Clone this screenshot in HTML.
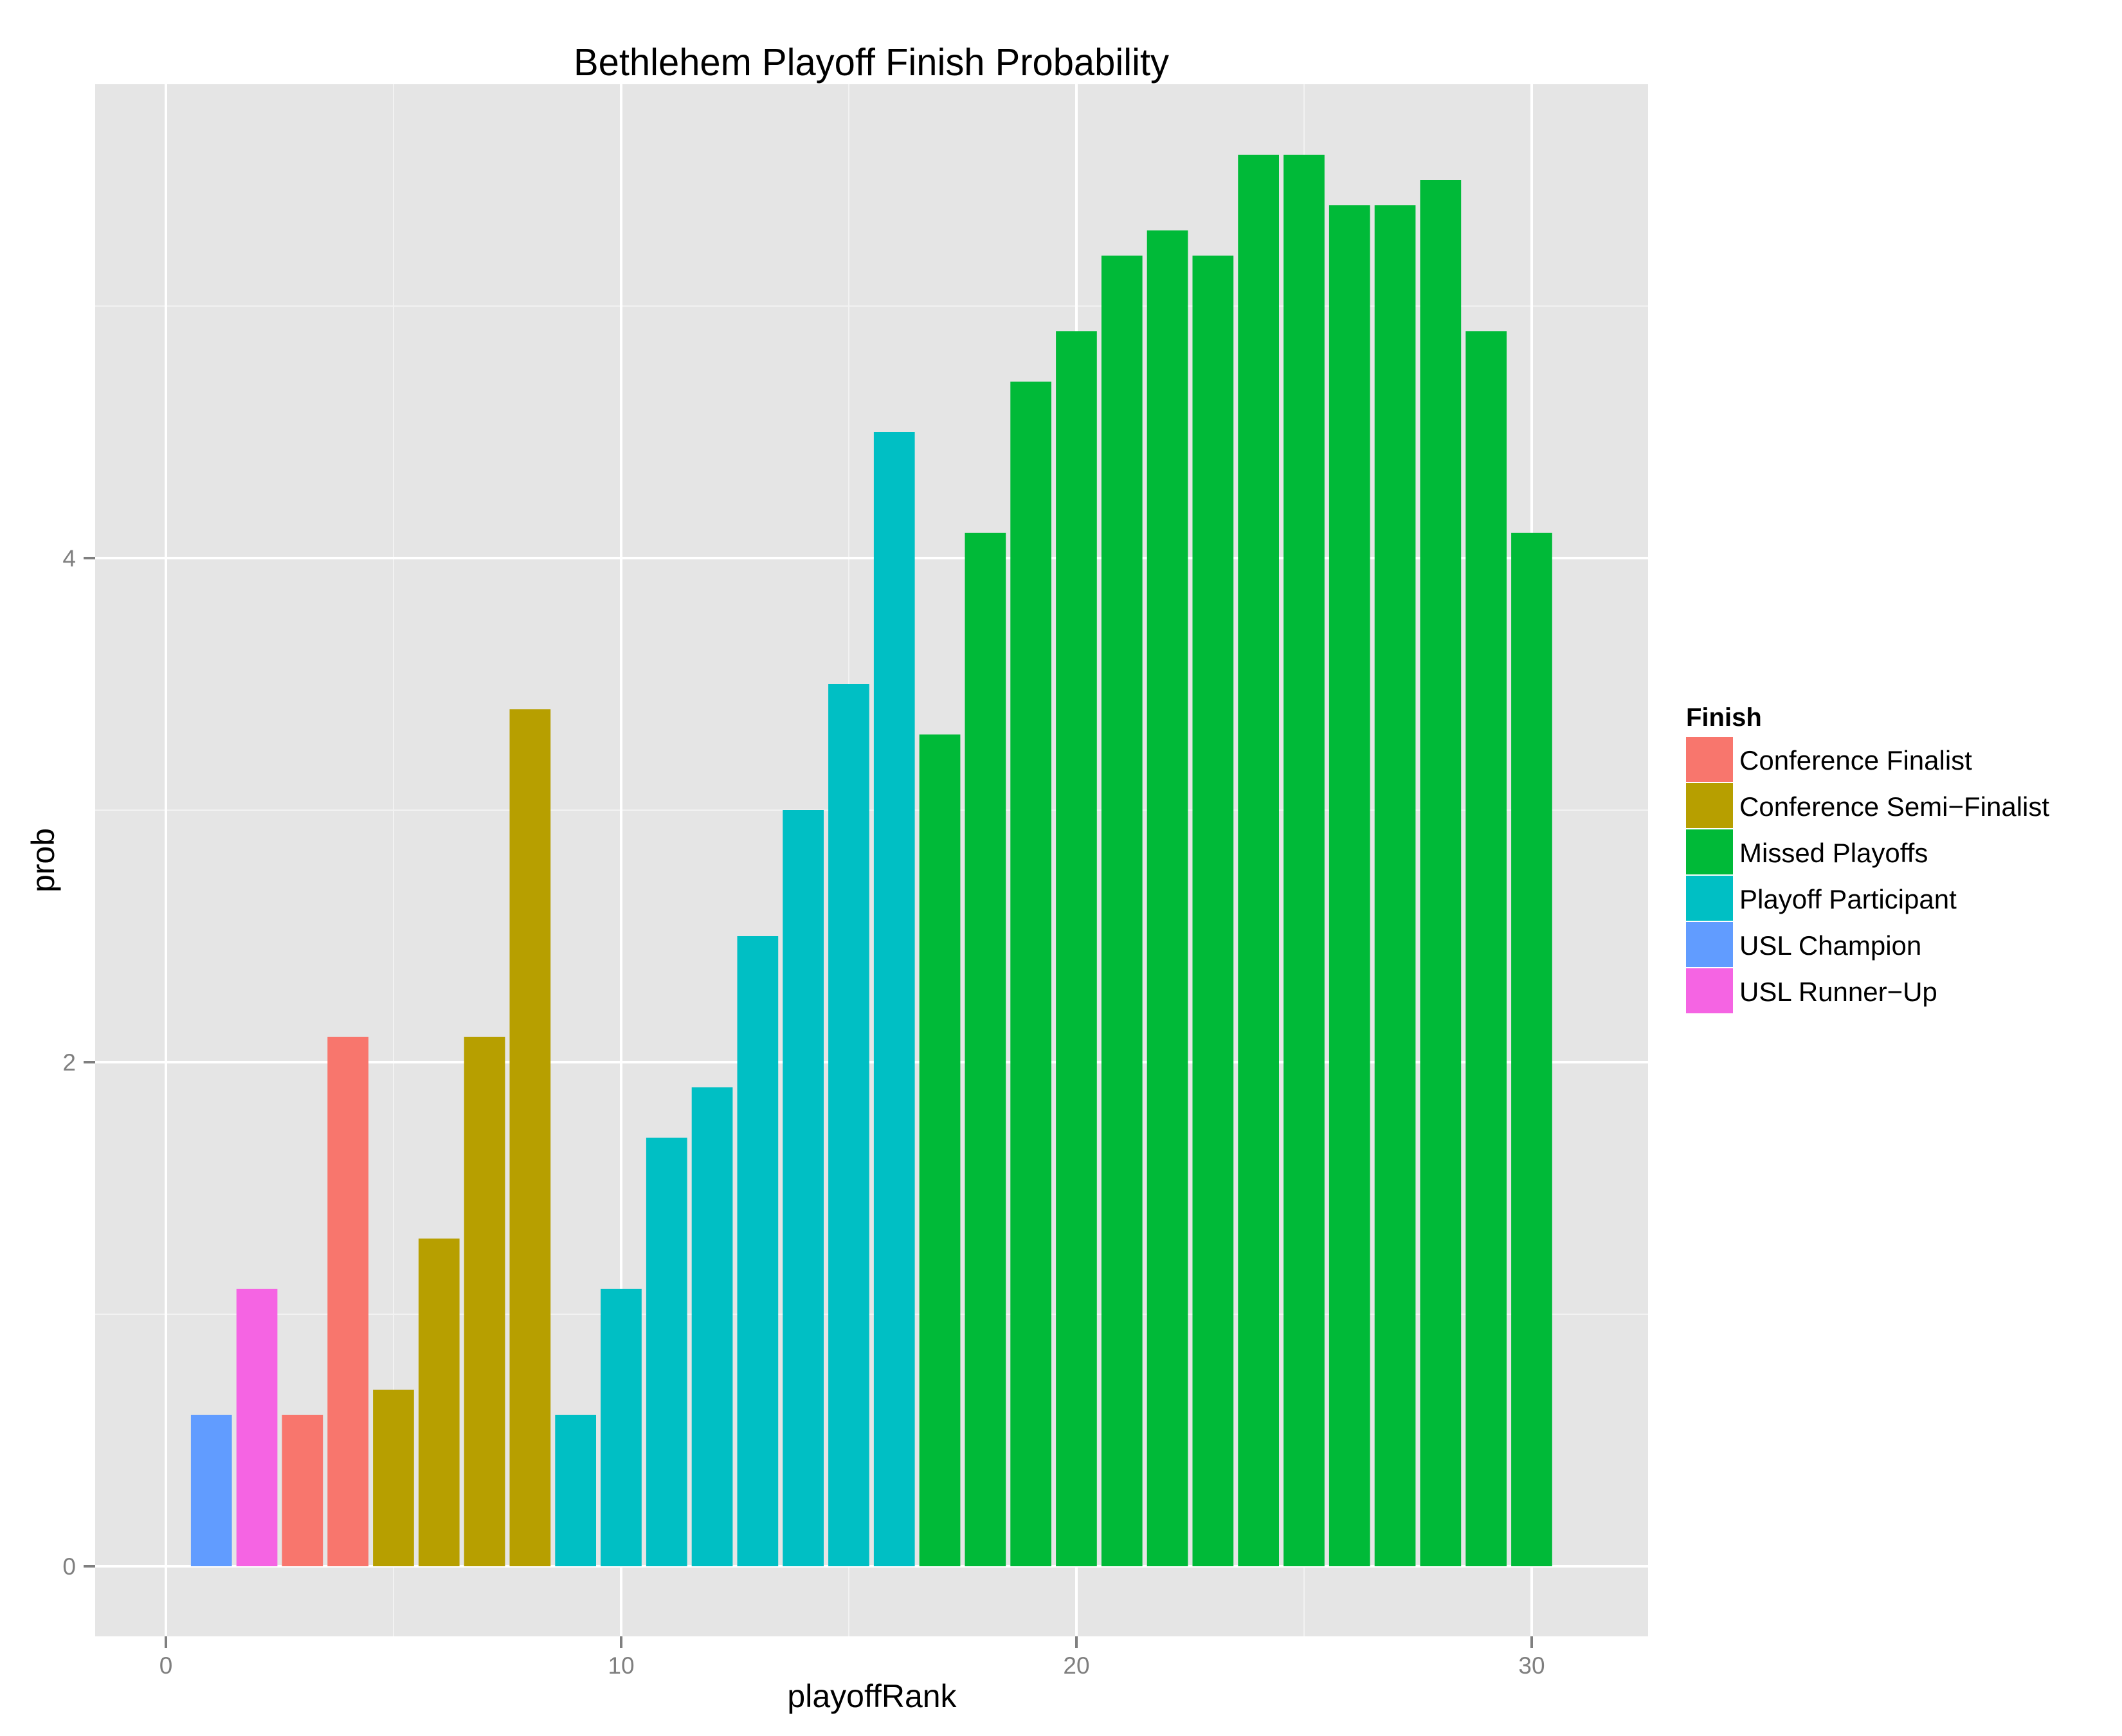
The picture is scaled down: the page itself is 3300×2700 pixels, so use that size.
<!DOCTYPE html>
<html><head><meta charset="utf-8"><style>html,body{margin:0;padding:0;background:#fff}svg{display:block}</style></head>
<body>
<svg xmlns="http://www.w3.org/2000/svg" width="3300" height="2700" viewBox="0 0 3300 2700" font-family="Liberation Sans, sans-serif">
<rect width="3300" height="2700" fill="#fff"/>
<rect x="148" y="131" width="2415" height="2414" fill="#E5E5E5"/>
<g stroke="#F2F2F2" stroke-width="2">
<line x1="612" y1="131" x2="612" y2="2545"/><line x1="1320" y1="131" x2="1320" y2="2545"/><line x1="2028" y1="131" x2="2028" y2="2545"/>
<line x1="148" y1="2044" x2="2563" y2="2044"/><line x1="148" y1="1260" x2="2563" y2="1260"/><line x1="148" y1="476" x2="2563" y2="476"/>
</g>
<g stroke="#fff" stroke-width="4">
<line x1="258" y1="131" x2="258" y2="2545"/><line x1="966" y1="131" x2="966" y2="2545"/><line x1="1674" y1="131" x2="1674" y2="2545"/><line x1="2382" y1="131" x2="2382" y2="2545"/>
<line x1="148" y1="2436" x2="2563" y2="2436"/><line x1="148" y1="1652" x2="2563" y2="1652"/><line x1="148" y1="868" x2="2563" y2="868"/>
</g>
<g id="bars"></g>
<g stroke="#7F7F7F" stroke-width="4">
<line x1="130" y1="2436" x2="148" y2="2436"/><line x1="130" y1="1652" x2="148" y2="1652"/><line x1="130" y1="868" x2="148" y2="868"/>
<line x1="258" y1="2545" x2="258" y2="2563"/><line x1="966" y1="2545" x2="966" y2="2563"/><line x1="1674" y1="2545" x2="1674" y2="2563"/><line x1="2382" y1="2545" x2="2382" y2="2563"/>
</g>
<g fill="#7F7F7F" font-size="37">
<text x="118" y="2449" text-anchor="end">0</text><text x="118" y="1665" text-anchor="end">2</text><text x="118" y="881" text-anchor="end">4</text>
<text x="258" y="2603" text-anchor="middle">0</text><text x="966" y="2603" text-anchor="middle">10</text><text x="1674" y="2603" text-anchor="middle">20</text><text x="2382" y="2603" text-anchor="middle">30</text>
</g>
<text x="1356" y="2655" font-size="50" text-anchor="middle">playoffRank</text>
<text transform="translate(84,1338) rotate(-90)" font-size="50" text-anchor="middle">prob</text>
<text x="1355" y="117" font-size="59" text-anchor="middle" textLength="926" lengthAdjust="spacingAndGlyphs">Bethlehem Playoff Finish Probability</text>
<text x="2622" y="1129" font-size="40" font-weight="bold">Finish</text>
<g font-size="42">
<rect x="2622" y="1146" width="73" height="70" fill="#F8766D"/><text x="2705" y="1197">Conference Finalist</text>
<rect x="2622" y="1218" width="73" height="70" fill="#B79F00"/><text x="2705" y="1269">Conference Semi−Finalist</text>
<rect x="2622" y="1290" width="73" height="70" fill="#00BA38"/><text x="2705" y="1341">Missed Playoffs</text>
<rect x="2622" y="1362" width="73" height="70" fill="#00BFC4"/><text x="2705" y="1413">Playoff Participant</text>
<rect x="2622" y="1434" width="73" height="70" fill="#619CFF"/><text x="2705" y="1485">USL Champion</text>
<rect x="2622" y="1506" width="73" height="70" fill="#F564E3"/><text x="2705" y="1557">USL Runner−Up</text>
</g>
<g>
<rect x="296.9" y="2200.8" width="63.7" height="235.2" fill="#619CFF"/>
<rect x="367.7" y="2004.8" width="63.7" height="431.2" fill="#F564E3"/>
<rect x="438.5" y="2200.8" width="63.7" height="235.2" fill="#F8766D"/>
<rect x="509.3" y="1612.8" width="63.7" height="823.2" fill="#F8766D"/>
<rect x="580.1" y="2161.6" width="63.7" height="274.4" fill="#B79F00"/>
<rect x="650.9" y="1926.4" width="63.7" height="509.6" fill="#B79F00"/>
<rect x="721.7" y="1612.8" width="63.7" height="823.2" fill="#B79F00"/>
<rect x="792.5" y="1103.2" width="63.7" height="1332.8" fill="#B79F00"/>
<rect x="863.3" y="2200.8" width="63.7" height="235.2" fill="#00BFC4"/>
<rect x="934.1" y="2004.8" width="63.7" height="431.2" fill="#00BFC4"/>
<rect x="1004.9" y="1769.6" width="63.7" height="666.4" fill="#00BFC4"/>
<rect x="1075.7" y="1691.2" width="63.7" height="744.8" fill="#00BFC4"/>
<rect x="1146.5" y="1456.0" width="63.7" height="980.0" fill="#00BFC4"/>
<rect x="1217.3" y="1260.0" width="63.7" height="1176.0" fill="#00BFC4"/>
<rect x="1288.1" y="1064.0" width="63.7" height="1372.0" fill="#00BFC4"/>
<rect x="1358.9" y="672.0" width="63.7" height="1764.0" fill="#00BFC4"/>
<rect x="1429.7" y="1142.4" width="63.7" height="1293.6" fill="#00BA38"/>
<rect x="1500.5" y="828.8" width="63.7" height="1607.2" fill="#00BA38"/>
<rect x="1571.3" y="593.6" width="63.7" height="1842.4" fill="#00BA38"/>
<rect x="1642.1" y="515.2" width="63.7" height="1920.8" fill="#00BA38"/>
<rect x="1712.9" y="397.6" width="63.7" height="2038.4" fill="#00BA38"/>
<rect x="1783.7" y="358.4" width="63.7" height="2077.6" fill="#00BA38"/>
<rect x="1854.5" y="397.6" width="63.7" height="2038.4" fill="#00BA38"/>
<rect x="1925.3" y="240.8" width="63.7" height="2195.2" fill="#00BA38"/>
<rect x="1996.1" y="240.8" width="63.7" height="2195.2" fill="#00BA38"/>
<rect x="2066.9" y="319.2" width="63.7" height="2116.8" fill="#00BA38"/>
<rect x="2137.7" y="319.2" width="63.7" height="2116.8" fill="#00BA38"/>
<rect x="2208.5" y="280.0" width="63.7" height="2156.0" fill="#00BA38"/>
<rect x="2279.3" y="515.2" width="63.7" height="1920.8" fill="#00BA38"/>
<rect x="2350.1" y="828.8" width="63.7" height="1607.2" fill="#00BA38"/>
</g>
</svg>
</body></html>
